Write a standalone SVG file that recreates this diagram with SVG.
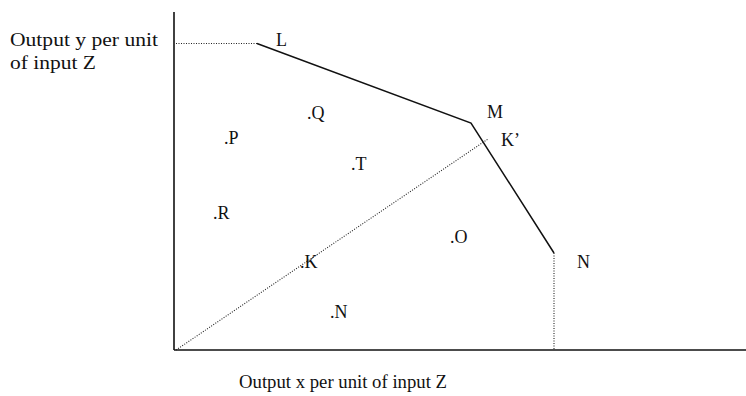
<svg xmlns="http://www.w3.org/2000/svg" width="746" height="396" viewBox="0 0 746 396">
<style>
.t{font-family:'Liberation Serif','Times New Roman',Times,serif;font-size:18px;fill:#111}
.axis{stroke:#111;stroke-width:1.6;fill:none}
.solid{stroke:#111;stroke-width:1.5;fill:none;stroke-linejoin:miter}
.dot{stroke:#222;stroke-width:1.1;stroke-dasharray:1 1.5;fill:none}
</style>
<rect width="746" height="396" fill="#fff"/>
<g id="connectors">
<line class="axis" x1="174" y1="12" x2="174" y2="350"/>
<line class="axis" x1="174" y1="350" x2="746" y2="350"/>
<line class="dot" x1="176" y1="43.5" x2="257" y2="43.5"/>
<polyline class="solid" points="257,43.5 471,123 554,253"/>
<line class="dot" x1="554" y1="253" x2="554" y2="350"/>
<line class="dot" x1="176" y1="350" x2="488" y2="139"/>
</g>
<g id="axis-y-label"><text class="t" x="10" y="46" textLength="148" lengthAdjust="spacingAndGlyphs">Output y per unit</text><text class="t" x="10" y="69" textLength="86" lengthAdjust="spacingAndGlyphs">of input Z</text></g>
<g id="axis-x-label"><text class="t" x="239" y="388" textLength="208" lengthAdjust="spacingAndGlyphs">Output x per unit of input Z</text></g>
<g id="L"><text class="t" x="276" y="46">L</text></g>
<g id="M"><text class="t" x="487" y="118">M</text></g>
<g id="Kp"><text class="t" x="501" y="146">K’</text></g>
<g id="Nc"><text class="t" x="577" y="268">N</text></g>
<g id="Q"><text class="t" x="307" y="119">.Q</text></g>
<g id="P"><text class="t" x="224" y="144">.P</text></g>
<g id="T"><text class="t" x="351" y="170">.T</text></g>
<g id="R"><text class="t" x="213" y="219">.R</text></g>
<g id="K"><text class="t" x="300" y="268">.K</text></g>
<g id="O"><text class="t" x="450" y="243">.O</text></g>
<g id="N"><text class="t" x="330" y="318">.N</text></g>
</svg>
